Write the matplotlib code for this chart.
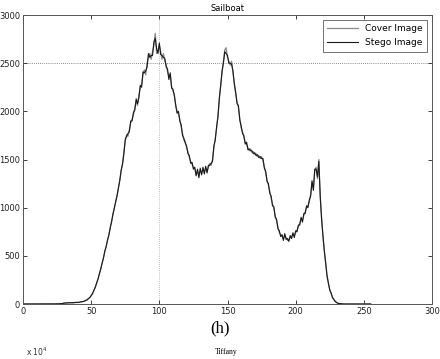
import matplotlib
matplotlib.use("Agg")
import matplotlib.pyplot as plt
import numpy as np

gray_levels = np.arange(256)

cover = [
    0, 0, 0, 0, 0, 0, 0, 0, 0, 0,
    0, 0, 0, 0, 0, 0, 0, 0, 0, 0,
    0, 0, 0, 0, 1, 1, 2, 3, 4, 5,
    8, 12, 9, 14, 11, 15, 10, 16, 13, 18,
    15, 18, 20, 22, 25, 30, 36, 44, 55, 68,
    85, 110, 140, 175, 215, 260, 310, 365, 420, 480,
    545, 600, 660, 720, 790, 860, 930, 1000, 1060, 1130,
    1200, 1290, 1380, 1460, 1580, 1690, 1760, 1740, 1810, 1880,
    1920, 1960, 2040, 2100, 2060, 2170, 2240, 2280, 2380, 2430,
    2380, 2500, 2560, 2600, 2540, 2620, 2680, 2810, 2600, 2640,
    2680, 2620, 2540, 2600, 2520, 2490, 2410, 2360, 2380, 2260,
    2210, 2180, 2050, 2000, 1980, 1920, 1840, 1770, 1700, 1690,
    1620, 1580, 1520, 1480, 1450, 1420, 1400, 1350, 1380, 1330,
    1390, 1360, 1400, 1370, 1410, 1380, 1420, 1460, 1440, 1500,
    1620, 1720, 1820, 1960, 2120, 2280, 2400, 2520, 2640, 2660,
    2560, 2520, 2480, 2520, 2400, 2300, 2180, 2100, 2040, 1930,
    1830, 1790, 1730, 1680, 1660, 1620, 1590, 1610, 1570, 1580,
    1550, 1560, 1530, 1540, 1510, 1530, 1490, 1430, 1360, 1290,
    1230, 1170, 1100, 1040, 990, 920, 860, 800, 740, 720,
    700, 680, 710, 690, 660, 670, 690, 700, 720, 710,
    740, 770, 800, 840, 880, 870, 920, 960, 1000, 1020,
    1060, 1140, 1260, 1200, 1380, 1420, 1300, 1500, 1110, 900,
    700, 560, 420, 300, 215, 150, 110, 70, 45, 28,
    15, 8, 4, 2, 1, 0, 0, 0, 0, 0,
    0, 0, 0, 0, 0, 0, 0, 0, 0, 0,
    0, 0, 0, 0, 0, 0,
]

stego = [
    0, 0, 0, 0, 0, 0, 0, 0, 0, 0,
    0, 0, 0, 0, 0, 0, 0, 0, 0, 0,
    0, 0, 0, 0, 1, 2, 1, 3, 5, 4,
    10, 9, 13, 11, 14, 12, 15, 12, 17, 15,
    17, 16, 21, 23, 26, 29, 38, 42, 57, 66,
    88, 107, 143, 172, 218, 257, 314, 361, 424, 476,
    550, 596, 665, 716, 795, 855, 936, 995, 1066, 1124,
    1208, 1282, 1390, 1450, 1560, 1710, 1740, 1770, 1790, 1900,
    1900, 1990, 2010, 2130, 2080, 2140, 2270, 2250, 2410, 2400,
    2420, 2460, 2600, 2560, 2580, 2580, 2720, 2760, 2650, 2600,
    2710, 2590, 2580, 2560, 2550, 2460, 2440, 2330, 2400, 2240,
    2230, 2160, 2070, 1980, 2000, 1900, 1860, 1750, 1720, 1670,
    1640, 1560, 1540, 1460, 1470, 1400, 1420, 1330, 1400, 1310,
    1410, 1340, 1420, 1350, 1430, 1360, 1440, 1440, 1460, 1480,
    1640, 1700, 1840, 1940, 2140, 2260, 2420, 2500, 2620, 2600,
    2580, 2500, 2500, 2490, 2420, 2280, 2200, 2080, 2060, 1910,
    1850, 1770, 1750, 1660, 1680, 1600, 1610, 1590, 1590, 1560,
    1570, 1540, 1550, 1520, 1530, 1510, 1510, 1410, 1380, 1270,
    1250, 1150, 1120, 1020, 1010, 900, 880, 780, 760, 700,
    720, 660, 730, 670, 680, 650, 710, 680, 740, 690,
    760, 750, 820, 820, 900, 850, 940, 940, 1020, 1000,
    1080, 1120, 1280, 1180, 1400, 1400, 1320, 1480, 1130, 880,
    710, 550, 430, 290, 220, 145, 115, 66, 48, 26,
    16, 7, 5, 2, 1, 0, 0, 0, 0, 0,
    0, 0, 0, 0, 0, 0, 0, 0, 0, 0,
    0, 0, 0, 0, 0, 0,
]

x_ticks = [0, 50, 100, 150, 200, 250, 300]
y_ticks = [0, 500, 1000, 1500, 2000, 2500, 3000]

plt.rcParams['font.family'] = ['DejaVu Sans']
fig = plt.figure(figsize=(4.4, 3.59), dpi=100)
ax = fig.add_axes([0.0523, 0.1532, 0.9295, 0.805])

ax.plot(gray_levels, cover, color='#8a8a8a', lw=0.9, label='Cover Image')
ax.plot(gray_levels, stego, color='#1a1a1a', lw=0.8, label='Stego Image')

ax.axhline(2500, color='#666666', lw=0.6, ls=(0, (1, 1.5)), zorder=0)
ax.axvline(100, color='#aaaaaa', lw=0.6, ls=(0, (1, 1.5)), zorder=0)

ax.set_xlim(0, 300)
ax.set_ylim(0, 3000)
ax.set_xticks(x_ticks)
ax.set_yticks(y_ticks)
ax.tick_params(direction='in', length=3, width=0.6, labelsize=6,
               top=True, right=True, pad=2, colors='#222222')
for s in ax.spines.values():
    s.set_linewidth(0.7)
    s.set_color('#555555')

ax.set_title('Sailboat', fontsize=6, pad=3)

leg = ax.legend(loc='upper right', fontsize=6.5, frameon=True, fancybox=False,
                edgecolor='#333333', borderpad=0.5, handlelength=3.4,
                labelspacing=0.55, borderaxespad=0.5)
leg.get_frame().set_linewidth(0.6)

fig.text(0.5, 0.085, '(h)', family='Liberation Serif', fontsize=12,
         ha='center', va='center')
fig.text(0.515, 0.02, 'Tiffany', family='Liberation Serif', fontsize=5.5,
         ha='center', va='center')
fig.text(0.06, 0.02, r'x 10$^4$', fontsize=5.5, ha='left', va='center',
         color='#333333')

fig.savefig('out.png', dpi=100)
